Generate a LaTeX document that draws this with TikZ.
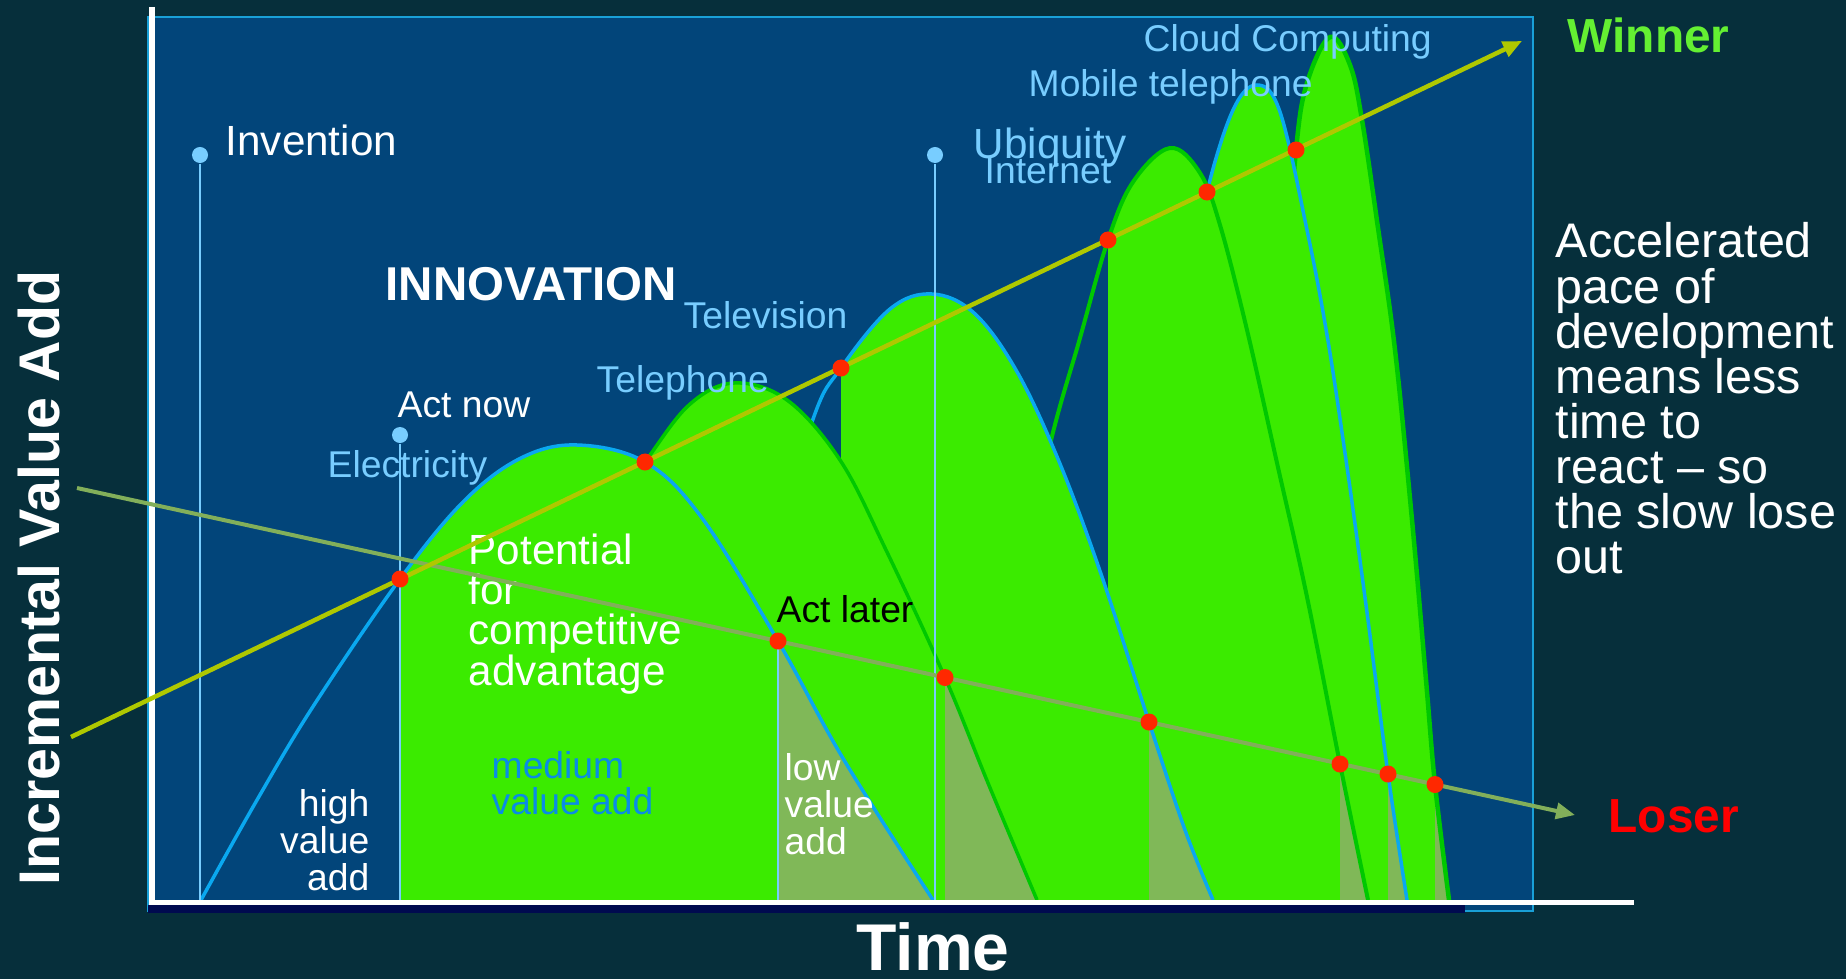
\documentclass[tikz,border=0pt]{standalone}
\usepackage{fontspec}
\setmainfont{Liberation Sans}
\usepackage{xcolor}
\usepackage{tikz}
\usetikzlibrary{arrows.meta}
\tikzset{>={Triangle[length=1.9mm, width=1.6mm]}}

\definecolor{backdrop}{RGB}{6,47,59}
\definecolor{plotblue}{RGB}{2,69,122}
\definecolor{framecyan}{RGB}{25,160,215}
\definecolor{navyband}{RGB}{0,10,80}
\definecolor{freshgreen}{RGB}{59,235,0}
\definecolor{edgegreen}{RGB}{0,200,0}
\definecolor{edgeblue}{RGB}{10,168,240}
\definecolor{stalegreen}{RGB}{128,184,88}
\definecolor{skyblue}{RGB}{120,205,255}
\definecolor{riseline}{RGB}{175,200,0}
\definecolor{fallline}{RGB}{130,175,90}
\definecolor{dotred}{RGB}{255,40,0}
\definecolor{winnergreen}{RGB}{100,240,50}
\definecolor{midblue}{RGB}{10,140,230}

% technology wave
\newcommand{\wave}[4]{%
	\begin{scope}
		\clip (#1,0) rectangle (1600,900);
		\fill[fresh] plot[smooth, tension=0.6] coordinates {#4} -- cycle;
	\end{scope}
	\begin{scope}
		\clip (#2,0) rectangle (1600,900);
		\fill[stale] plot[smooth, tension=0.6] coordinates {#4} -- cycle;
	\end{scope}
	\draw[#3] plot[smooth, tension=0.6] coordinates {#4};
}

\begin{document}
\begin{tikzpicture}[
	x=0.01cm, y=-0.01cm,
	fresh/.style = {fill=freshgreen},
	stale/.style = {fill=stalegreen},
	blueedge/.style = {draw=edgeblue, line width=0.035cm},
	greenedge/.style = {draw=edgegreen, line width=0.04cm},
	plotframe/.style = {draw=framecyan, fill=plotblue, line width=0.02cm},
	axisline/.style = {draw=white, line width=0.055cm},
	marker/.style = {draw=skyblue, line width=0.025cm},
	knob/.style = {circle, fill=skyblue, inner sep=0, minimum size=0.16cm},
	hit/.style = {circle, fill=dotred, inner sep=0, minimum size=0.17cm},
	risearrow/.style = {->, draw=riseline, fill=riseline, line width=0.045cm},
	fallarrow/.style = {->, draw=fallline, fill=fallline, line width=0.04cm},
	tag/.style = {
		anchor=base west, inner sep=0,
		text=white,
		font=\fontsize{10.6}{12}\selectfont
	},
	era/.style = {tag, text=skyblue},
	big/.style = {tag, font=\fontsize{12}{14}\selectfont},
	headline/.style = {tag, font=\bfseries\fontsize{13.5}{16}\selectfont},
	verdict/.style = {tag, font=\bfseries\fontsize{13.6}{16}\selectfont},
	note/.style = {tag, font=\fontsize{13.8}{16}\selectfont}
]
	% Backdrop and plot area
	\fill[backdrop] (0,0) rectangle (1846,979);
	\draw[plotframe] (147.5,17) rectangle (1533,911);
	% Waves, back to front
	\wave{1296}{1435}{greenedge, line width=0.045cm}{(1250,900) (1270,560) (1285,300) (1296,150) (1307,83) (1330,37) (1350,65) (1362,120) (1378,228) (1395,350) (1412,520) (1426,680) (1435,784.5) (1449,900)}
	\wave{1207}{1388}{blueedge}{(1125,900) (1160,560) (1190,290) (1207,192) (1233,110) (1257,85) (1280,112) (1307,230) (1327,335) (1346,460) (1366,605) (1388,774) (1407,900)}
	\wave{1108}{1340}{greenedge}{(975,900) (1010,640) (1048,453) (1080,338) (1108,240) (1133,182) (1170,148) (1200,173) (1220,225) (1247,330) (1277,463) (1307,597) (1340,764) (1368,900)}
	\wave{841}{1149}{blueedge}{(680,900) (760,600) (812,422) (841,368) (890,309) (932,294) (974,313) (1016,370) (1058,459) (1101,574) (1149,722) (1185,830) (1213,900)}
	\wave{645}{945}{greenedge, line width=0.035cm}{(490,900) (560,640) (610,510) (645,462) (689,405) (734,383) (787,400) (840,460) (886,550) (945,677.5) (988,783) (1037,900)}
	\wave{400}{778}{blueedge}{(201,900) (257,800) (314,705) (400,579) (464,501) (521,458) (577,445) (645,462) (702,518) (778,641) (844,760) (933,900)}
	% Milestones
	\coordinate (origin) at (152,902.5);
	\coordinate (later) at (778,641);
	\node[knob] (inv) at (200,155) {};
	\node[knob] (now) at (400,435) {};
	\node[knob] (ubi) at (935,155) {};
	\draw[marker] (inv) -- (inv |- origin);
	\draw[marker] (now) -- (now |- origin);
	\draw[marker] (ubi) -- (ubi |- origin);
	\draw[marker] (later) -- (later |- origin);
	% Axes
	\fill[navyband] (148,905) rectangle (1465,913);
	\draw[axisline] (152,7) -- (origin) -- (1634,902.5);
	% Labels
	\node[big] (invention) at (225,156) {Invention};
	\node[tag] (actnow) at (397,417) {Act now};
	\node[era] (electricity) at (327,477) {Electricity};
	\node[headline] (innovation) at (385,300) {INNOVATION};
	\node[era] (telephone) at (596,392) {Telephone};
	\node[era] (television) at (683,328) {Television};
	\node[era, font=\fontsize{12}{14}\selectfont] (ubiquity) at (973,159) {Ubiquity};
	\node[era] (internet) at (984,183) {Internet};
	\node[era] (mobile) at (1028,97) {Mobile telephone};
	\node[era] (cloud) at (1143,52) {Cloud Computing};
	\node[tag, text=black] (actlater) at (776,622) {Act later};
	\node[verdict, text=winnergreen] (winner) at (1567,53) {Winner};
	\node[verdict, text=red] (loser) at (1608,832) {Loser};
	\foreach \word [count=\i from 0] in {Potential, for, competitive, advantage}
		\node[big] (potential\i) at (468,{564+40.4*\i}) {\word};
	\foreach \word [count=\i from 0] in {high, value, add}
		\node[tag, anchor=base east] (high\i) at (370,{816+37.1*\i}) {\word};
	\foreach \word [count=\i from 0] in {medium, value add}
		\node[tag, text=midblue] (medium\i) at (491,{778+36.5*\i}) {\word};
	\foreach \word [count=\i from 0] in {low, value, add}
		\node[tag] (low\i) at (784,{780+37.1*\i}) {\word};
	\foreach \word [count=\i from 0] in {Accelerated, pace of, development, means less, time to, react – so, the slow lose, out}
		\node[note] (pace\i) at (1555,{258+45.1*\i}) {\word};
	\node[tag, anchor=base, font=\bfseries\fontsize{18.8}{22}\selectfont] (time) at (933,970) {Time};
	\node[tag, anchor=base, rotate=90, font=\bfseries\fontsize{16.3}{19}\selectfont] (value) at (59,578) {Incremental Value Add};
	% Winner and loser trends
	\coordinate (riseA) at (71,737);
	\coordinate (riseB) at (1522,41);
	\coordinate (fallA) at (77,488);
	\coordinate (fallB) at (1575,815);
	\draw[fallarrow] (fallA) -- (fallB);
	\draw[risearrow] (riseA) -- (riseB);
	\foreach \x/\y [count=\i] in {400/579, 645/462, 841/368, 1108/240, 1207/192, 1296/150}
		\node[hit] (rise\i) at (\x,\y) {};
	\foreach \x/\y [count=\i] in {778/641, 945/677.5, 1149/722, 1340/764, 1388/774, 1435/784.5}
		\node[hit] (fall\i) at (\x,\y) {};
\end{tikzpicture}
\end{document}
